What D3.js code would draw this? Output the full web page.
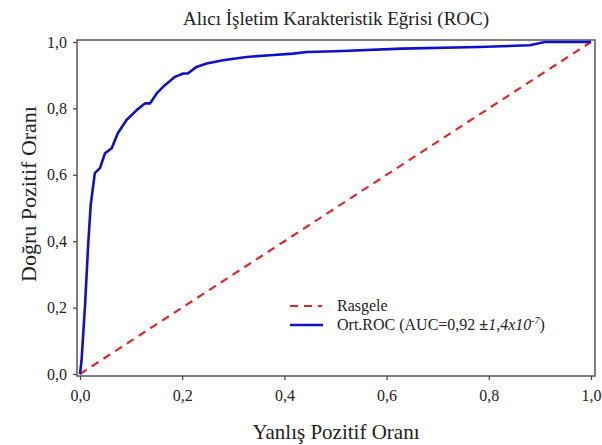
<!DOCTYPE html>
<html>
<head>
<meta charset="utf-8">
<script src="https://cdn.jsdelivr.net/npm/d3@7"></script>
<style>
  body { margin: 0; background: #fff; }
  text { font-family: "Liberation Serif", "DejaVu Serif", serif; fill: #222; }
</style>
</head>
<body>
<div id="chart"></div>
<script>
// ROC curve values
var fpr = [0, 0.003, 0.010, 0.016, 0.021, 0.029, 0.039, 0.049, 0.062, 0.074, 0.091, 0.111, 0.127, 0.137,
  0.150, 0.166, 0.186, 0.202, 0.211, 0.228, 0.248, 0.280, 0.326, 0.372, 0.417, 0.444, 0.50, 0.63,
  0.78, 0.88, 0.91, 1.0];
var tpr = [0, 0.04, 0.21, 0.39, 0.51, 0.605, 0.62, 0.665, 0.68, 0.725, 0.765, 0.795, 0.815, 0.815,
  0.845, 0.87, 0.895, 0.905, 0.905, 0.925, 0.935, 0.945, 0.955, 0.96, 0.965, 0.97, 0.972, 0.98,
  0.985, 0.99, 1.0, 1.0];
var randomLine = [0, 1];
var tickValues = [0, 0.2, 0.4, 0.6, 0.8, 1.0];

var svgWidth = 602;
var svgHeight = 445;

var svg = d3.select('#chart')
  .append('svg')
  .attr('width', svgWidth)
  .attr('height', svgHeight);

// scales: 0 -> 80px, 1 -> 591px ; frame slightly padded
var x = d3.scaleLinear().domain([0, 1]).range([80, 591]);
var y = d3.scaleLinear().domain([0, 1]).range([374, 42]);

var fmt = function(d) { return d3.format('.1f')(d).replace('.', ','); };

// frame
svg.append('rect')
  .attr('x', 77)
  .attr('y', 40)
  .attr('width', 595 - 77)
  .attr('height', 376 - 40)
  .attr('fill', 'none')
  .attr('stroke', '#555')
  .attr('stroke-width', 1.5);

// axes
var xAxis = svg.append('g')
  .attr('transform', 'translate(0, 376)')
  .call(d3.axisBottom(x).tickValues(tickValues).tickFormat(fmt).tickSize(4).tickPadding(10));
var yAxis = svg.append('g')
  .attr('transform', 'translate(77, 0)')
  .call(d3.axisLeft(y).tickValues(tickValues).tickFormat(fmt).tickSize(4).tickPadding(6));

[xAxis, yAxis].forEach(function(g) {
  g.select('.domain').remove();
  g.selectAll('line').attr('stroke', '#444').attr('stroke-width', 1.2);
  g.selectAll('text')
    .style('font-family', '"Liberation Serif", serif')
    .style('font-size', '16px')
    .attr('fill', '#222');
});

// random classifier line
svg.append('path')
  .datum(randomLine)
  .attr('fill', 'none')
  .attr('stroke', '#e0282c')
  .attr('stroke-width', 2.2)
  .attr('stroke-dasharray', '8,6')
  .attr('d', d3.line().x(d => x(d)).y(d => y(d)));

// mean ROC curve
svg.append('path')
  .datum(d3.zip(fpr, tpr))
  .attr('fill', 'none')
  .attr('stroke', '#1010cc')
  .attr('stroke-width', 2.6)
  .attr('stroke-linejoin', 'round')
  .attr('d', d3.line().x(d => x(d[0])).y(d => y(d[1])));

// title and axis labels
svg.append('text')
  .attr('x', 336)
  .attr('y', 25)
  .attr('text-anchor', 'middle')
  .style('font-size', '19px')
  .text('Alıcı İşletim Karakteristik Eğrisi (ROC)');

svg.append('text')
  .attr('x', 336)
  .attr('y', 439)
  .attr('text-anchor', 'middle')
  .style('font-size', '21px')
  .text('Yanlış Pozitif Oranı');

svg.append('text')
  .attr('transform', 'translate(36, 194) rotate(-90)')
  .attr('text-anchor', 'middle')
  .style('font-size', '22px')
  .text('Doğru Pozitif Oranı');

// legend
var legend = svg.append('g');
legend.append('line')
  .attr('x1', 290).attr('x2', 322).attr('y1', 306).attr('y2', 306)
  .attr('stroke', '#e0282c').attr('stroke-width', 2.2).attr('stroke-dasharray', '8,6');
legend.append('text')
  .attr('x', 337).attr('y', 311)
  .style('font-size', '16px')
  .text('Rasgele');
legend.append('line')
  .attr('x1', 290).attr('x2', 323).attr('y1', 325).attr('y2', 325)
  .attr('stroke', '#1010cc').attr('stroke-width', 2.6);
var lbl = legend.append('text')
  .attr('x', 337).attr('y', 330)
  .style('font-size', '16px');
lbl.append('tspan').text('Ort.ROC (AUC=0,92 ');
lbl.append('tspan').style('font-weight', 'bold').text('±');
lbl.append('tspan').style('font-style', 'italic').text('1,4x10');
lbl.append('tspan').style('font-style', 'italic').style('font-size', '10px').attr('dy', -6).text('-7');
lbl.append('tspan').attr('dy', 6).text(')');
</script>
</body>
</html>
